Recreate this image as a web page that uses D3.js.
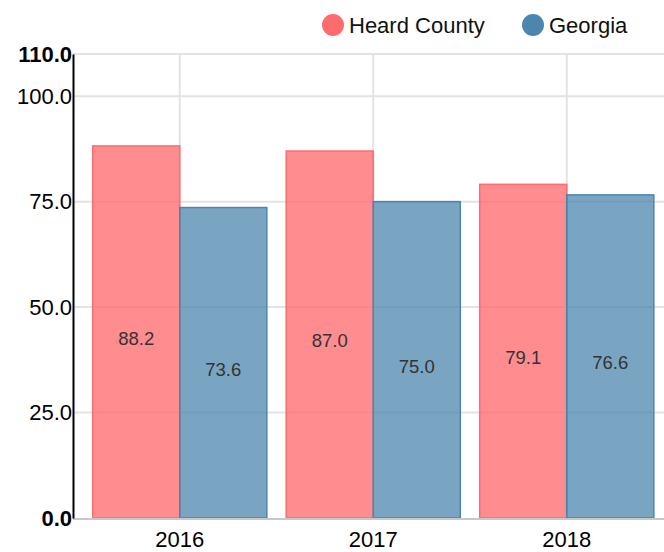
<!DOCTYPE html>
<meta charset="utf-8">
<style>
body { margin: 0; background: #fff; }
svg { font-family: "Liberation Sans", Arial, sans-serif; }
.grid line { stroke: #e3e3e3; stroke-width: 2; }
.bar-label { font-size: 18.5px; fill: #333; text-anchor: middle; }
</style>
<svg width="664" height="552"></svg>
<script src="https://d3js.org/d3.v7.min.js"></script>
<script>

var years = ["2016", "2017", "2018"];
var seriesNames = ["Heard County", "Georgia"];
var heard = [88.2, 87.0, 79.1];
var georgia = [73.6, 75.0, 76.6];
var yTicks = [0, 25, 50, 75, 100, 110];
var colors = ["#ff6b6e", "#4a86ad"];

var svg = d3.select("svg");
var plotLeft = 73, plotRight = 664, plotTop = 54, plotBottom = 518;

var x = d3.scaleBand().domain(years).range([83, 663.5]).paddingInner(0.1).paddingOuter(0.05);
var xs = d3.scaleBand().domain(seriesNames).range([0, x.bandwidth()]);
var y = d3.scaleLinear().domain([0, 110]).range([plotBottom, plotTop]);

// grid
var grid = svg.append("g").attr("class", "grid");
grid.selectAll(".h").data(yTicks.slice(1)).enter().append("line")
    .attr("x1", plotLeft).attr("x2", plotRight)
    .attr("y1", function(d) { return y(d); }).attr("y2", function(d) { return y(d); });
grid.selectAll(".v").data(years).enter().append("line")
    .attr("x1", function(d) { return x(d) + x.bandwidth() / 2; })
    .attr("x2", function(d) { return x(d) + x.bandwidth() / 2; })
    .attr("y1", plotTop).attr("y2", plotBottom);

var rows = years.map(function(yr, i) {
  return [
    { year: yr, name: seriesNames[0], value: heard[i], c: colors[0], op: 0.78 },
    { year: yr, name: seriesNames[1], value: georgia[i], c: colors[1], op: 0.74 }
  ];
});

var groups = svg.append("g").selectAll("g").data(rows).enter().append("g")
    .attr("transform", function(d) { return "translate(" + x(d[0].year) + ",0)"; });

groups.selectAll("rect").data(function(d) { return d; }).enter().append("rect")
    .attr("x", function(d) { return xs(d.name); })
    .attr("width", xs.bandwidth())
    .attr("y", function(d) { return y(d.value); })
    .attr("height", function(d) { return plotBottom - y(d.value); })
    .attr("fill", function(d) { return d.c; })
    .attr("fill-opacity", function(d) { return d.op; })
    .attr("stroke", function(d) { return d.c; })
    .attr("stroke-width", 1.5);

groups.selectAll("text").data(function(d) { return d; }).enter().append("text")
    .attr("class", "bar-label")
    .attr("x", function(d) { return xs(d.name) + xs.bandwidth() / 2; })
    .attr("y", function(d) { return (y(d.value) + plotBottom) / 2; })
    .attr("dy", "0.7em")
    .text(function(d) { return d.value.toFixed(1); });

// baseline
svg.append("line").attr("x1", plotLeft).attr("x2", plotRight)
    .attr("y1", plotBottom + 1).attr("y2", plotBottom + 1)
    .attr("stroke", "#c8c8c8").attr("stroke-width", 2);

// y axis
var yAxis = svg.append("g").attr("transform", "translate(" + plotLeft + ",0)")
    .call(d3.axisLeft(y).tickValues(yTicks).tickSize(0).tickPadding(1).tickFormat(d3.format(".1f")));
yAxis.select(".domain").attr("stroke", "#000").attr("stroke-width", 2);
yAxis.selectAll("text").attr("font-size", 22).attr("fill", "#000")
    .attr("font-family", "Liberation Sans, Arial, sans-serif")
    .attr("font-weight", function(d) { return (d === 0 || d === 110) ? "bold" : "normal"; });

// x axis
var xAxis = svg.append("g").attr("transform", "translate(0," + plotBottom + ")")
    .call(d3.axisBottom(x).tickSize(0).tickPadding(13));
xAxis.select(".domain").remove();
xAxis.selectAll("text").attr("font-size", 22).attr("fill", "#000")
    .attr("font-family", "Liberation Sans, Arial, sans-serif");

// legend
var legendX = [333, 533];
var legend = svg.append("g").selectAll("g").data(seriesNames).enter().append("g")
    .attr("transform", function(d, i) { return "translate(" + legendX[i] + ",25)"; });
legend.append("circle").attr("r", 11).attr("fill", function(d, i) { return colors[i]; });
legend.append("text").attr("x", 16).attr("dy", "0.35em")
    .attr("font-size", 22).attr("fill", "#111")
    .text(function(d) { return d; });

</script>
